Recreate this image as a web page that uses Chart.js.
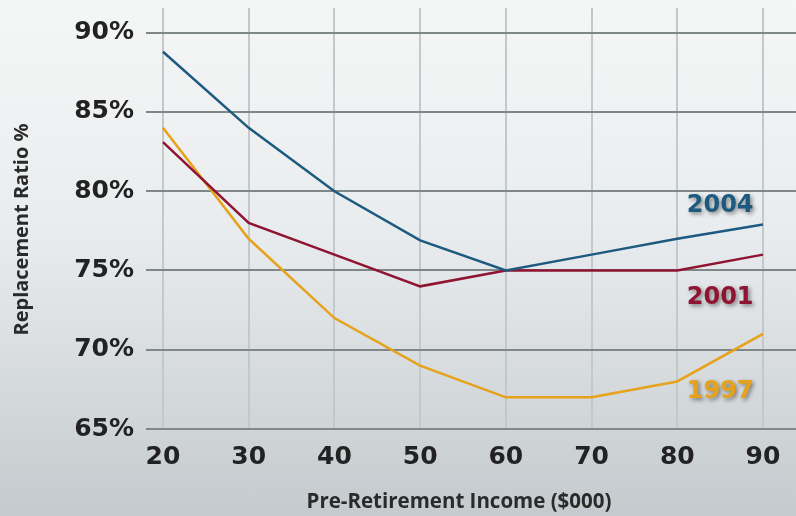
<!DOCTYPE html>
<html>
<head>
<meta charset="utf-8">
<script src="https://cdn.jsdelivr.net/npm/chart.js@4.4.1/dist/chart.umd.min.js"></script>
<style>
	html, body { margin: 0; padding: 0; }
	body {
		width: 796px; height: 516px; overflow: hidden;
		background: linear-gradient(to bottom, #f5f6f6 0%, #e9ecee 45%, #c4cacd 100%);
	}
	#caixa { position: relative; width: 796px; height: 516px; }
</style>
</head>
<body>
<div id="caixa"><canvas id="grafico"></canvas></div>
<script>
//----------------------------------------Dados----------------------------------------
const rendas = [20, 30, 40, 50, 60, 70, 80, 90];
const anos = ["2004", "2001", "1997"];
const taxa_2004 = [88.8, 84.0, 80.0, 76.9, 75.0, 76.0, 77.0, 77.9];
const taxa_2001 = [83.1, 78.0, 76.0, 74.0, 75.0, 75.0, 75.0, 76.0];
const taxa_1997 = [84.0, 77.0, 72.0, 69.0, 67.0, 67.0, 68.0, 71.0];
const ticks_y = [65, 70, 75, 80, 85, 90];
const ticks_x = [20, 30, 40, 50, 60, 70, 80, 90];
//posição dos rótulos de cada série (em valores do gráfico)
const rotulo_x = [85, 85, 85];
const rotulo_y = [79.1, 73.3, 67.35];
const titulo_x = "Pre-Retirement Income ($000)";
const titulo_y = "Replacement Ratio %";

const cores = ["#1d5a7f", "#8e1431", "#e6a21a"];
const fonte = "'Open Sans', 'DejaVu Sans', sans-serif";
const fonte_num = "'DejaVu Sans', sans-serif";

//----------------------------------------Plugins----------------------------------------
//Rótulos das séries, com sombra
const rotulos_series = {
	id: 'rotulos_series',
	afterDatasetsDraw(chart){
		const ctx = chart.ctx;
		const sx = chart.scales.x;
		const sy = chart.scales.y;
		ctx.save();
		ctx.font = "bold 24px " + fonte_num;
		ctx.textAlign = "center";
		ctx.textBaseline = "middle";
		anos.forEach((a, i) => {
			ctx.shadowColor = "rgba(0,0,0,0.45)";
			ctx.shadowBlur = 4;
			ctx.shadowOffsetX = 2;
			ctx.shadowOffsetY = 2;
			ctx.fillStyle = cores[i];
			ctx.fillText(a, sx.getPixelForValue(rotulo_x[i]), sy.getPixelForValue(rotulo_y[i]));
		});
		ctx.restore();
	}
};

//Títulos dos eixos
const titulos_eixos = {
	id: 'titulos_eixos',
	afterDraw(chart){
		const ctx = chart.ctx;
		const area = chart.chartArea;
		ctx.save();
		ctx.fillStyle = "#2a2a2a";
		ctx.textAlign = "center";
		ctx.textBaseline = "middle";
		ctx.font = "bold 20.5px " + fonte;
		ctx.fillText(titulo_x, area.left + (area.right - area.left) / 2 - 12, 502);
		ctx.translate(22, area.top + (area.bottom - area.top) / 2 + 11);
		ctx.rotate(-Math.PI / 2);
		ctx.font = "bold 20px " + fonte;
		ctx.fillText(titulo_y, 0, 0);
		ctx.restore();
	}
};

//----------------------------------------Gráfico----------------------------------------
const series = [taxa_2004, taxa_2001, taxa_1997];

const grafico = new Chart(document.getElementById('grafico'), {
	type: 'line',
	data: {
		labels: rendas,
		datasets: series.map((s, i) => ({
			label: anos[i],
			data: rendas.map((r, j) => ({ x: r, y: s[j] })),
			borderColor: cores[i],
			borderWidth: 2.5,
			pointRadius: 0,
			tension: 0,
			fill: false
		}))
	},
	options: {
		responsive: true,
		maintainAspectRatio: false,
		animation: false,
		layout: { padding: { top: 8, left: 0, right: 0, bottom: 0 } },
		plugins: {
			legend: { display: false },
			tooltip: { enabled: false }
		},
		scales: {
			x: {
				type: 'linear',
				min: 18.02,
				max: 93.85,
				afterBuildTicks: s => { s.ticks = ticks_x.map(v => ({ value: v })); },
				afterFit: s => { s.height = 87; s.paddingLeft = 0; s.paddingRight = 0; },
				border: { display: false },
				grid: { color: "#c3c8ca", lineWidth: 2, drawTicks: false },
				ticks: {
					padding: 13,
					color: "#222",
					font: { family: fonte_num, size: 25, weight: 'bold' },
					maxRotation: 0
				}
			},
			y: {
				min: 65,
				max: 91.56,
				afterBuildTicks: s => { s.ticks = ticks_y.map(v => ({ value: v })); },
				afterFit: s => { s.width = 146; s.paddingTop = 0; s.paddingBottom = 0; },
				border: { display: false },
				grid: { color: "#7f8787", lineWidth: 2, drawTicks: false },
				ticks: {
					padding: 12,
					color: "#222",
					font: { family: fonte_num, size: 25, weight: 'bold' },
					callback: v => v + "%"
				}
			}
		}
	},
	plugins: [rotulos_series, titulos_eixos]
});
</script>
</body>
</html>
